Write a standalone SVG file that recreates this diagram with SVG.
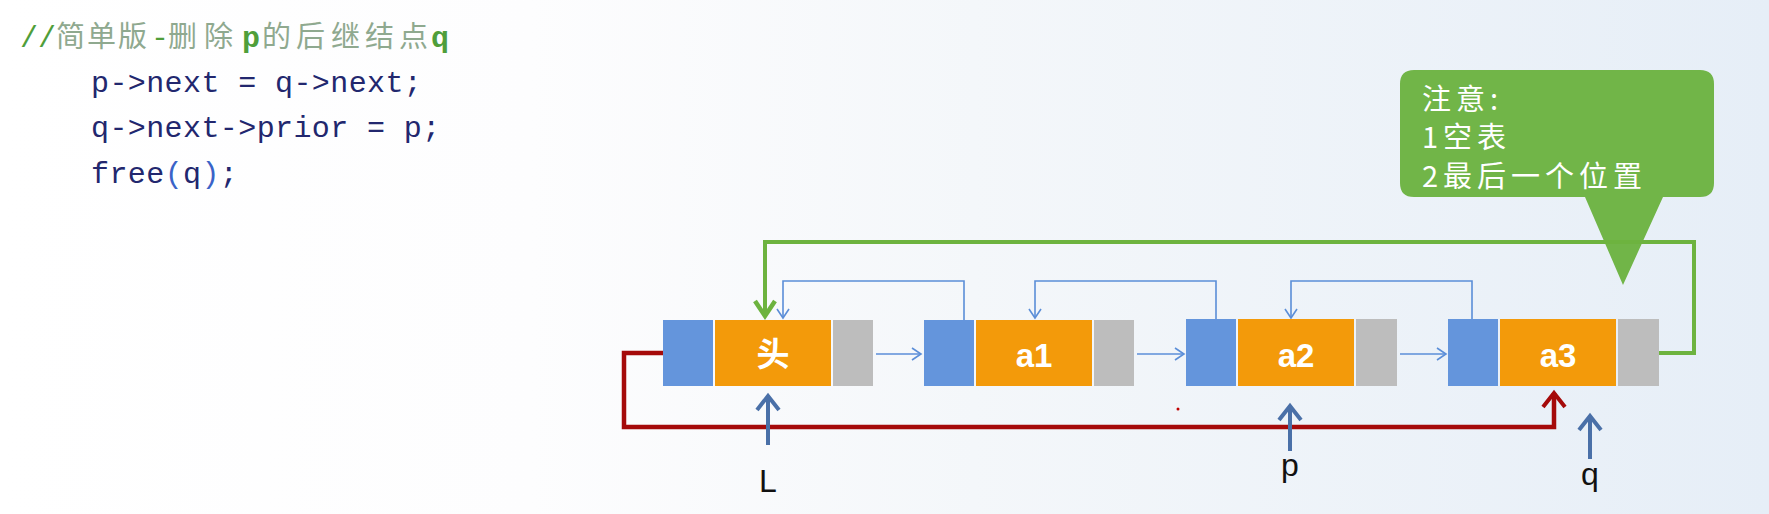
<svg xmlns="http://www.w3.org/2000/svg" width="1769" height="514" viewBox="0 0 1769 514">
  <defs>
    <linearGradient id="bg" x1="0" y1="0" x2="1769" y2="0" gradientUnits="userSpaceOnUse">
      <stop offset="0" stop-color="#ffffff"/>
      <stop offset="0.3" stop-color="#fdfdfe"/>
      <stop offset="0.55" stop-color="#f4f7fa"/>
      <stop offset="1" stop-color="#e6eef7"/>
    </linearGradient>
    <marker id="arrB" markerUnits="userSpaceOnUse" orient="auto" markerWidth="20" markerHeight="20" refX="0" refY="0" overflow="visible">
      <path d="M-9,-6 L0,0 L-9,6" fill="none" stroke="#5b8ed8" stroke-width="1.6"/>
    </marker>
    <marker id="arrG" markerUnits="userSpaceOnUse" orient="auto" markerWidth="30" markerHeight="30" refX="0" refY="0" overflow="visible">
      <path d="M-15,-10 L0,0 L-15,10" fill="none" stroke="#6db33f" stroke-width="4.5"/>
    </marker>
    <marker id="arrR" markerUnits="userSpaceOnUse" orient="auto" markerWidth="30" markerHeight="30" refX="0" refY="0" overflow="visible">
      <path d="M-14,-11 L0,0 L-14,11" fill="none" stroke="#a50a0a" stroke-width="4"/>
    </marker>
    <marker id="arrS" markerUnits="userSpaceOnUse" orient="auto" markerWidth="30" markerHeight="30" refX="0" refY="0" overflow="visible">
      <path d="M-14,-11 L0,0 L-14,11" fill="none" stroke="#4a70a8" stroke-width="4"/>
    </marker>
  </defs>
  <style>
    .code { font-family: "Liberation Mono", "DejaVu Sans Mono", monospace; font-size: 30px; fill: #22276e; letter-spacing: 0.4px; }
    .cmt { font-family: "Noto Sans CJK SC", sans-serif; font-size: 29px; fill: #8fa98f; }
    .cmtA { font-family: "Liberation Mono", monospace; font-size: 30px; fill: #4f9e3a; }
    .blue { fill: #6495dc; }
    .orange { fill: #f39a0a; }
    .gray { fill: #bdbdbd; }
    .lbl { font-family: "Liberation Sans", Arial, sans-serif; font-weight: bold; font-size: 33px; fill: #ffffff; text-anchor: middle; }
    .lblc { font-family: "Noto Sans CJK SC", sans-serif; font-weight: bold; font-size: 33px; fill: #ffffff; text-anchor: middle; }
    .ptr { font-family: "Liberation Sans", Arial, sans-serif; font-size: 32px; fill: #111111; text-anchor: middle; }
    .thin { fill: none; stroke: #5b8ed8; stroke-width: 1.6; }
    .note { font-family: "Noto Sans CJK SC", sans-serif; font-size: 29px; fill: #ffffff; letter-spacing: 5px; }
  </style>
  <rect x="0" y="0" width="1769" height="514" fill="url(#bg)"/>

  <g id="code">
    <text y="47">
      <tspan class="cmtA" x="20">//</tspan>
      <tspan class="cmt" x="56 87 118">简单版</tspan>
      <tspan class="cmtA" x="151" fill="#2f9a2f">-</tspan>
      <tspan class="cmt" x="168 204">删除</tspan>
      <tspan class="cmtA" x="242" font-weight="bold" fill="#2e9e2e">p</tspan>
      <tspan class="cmt" x="262 296 331 365 399">的后继结点</tspan>
      <tspan class="cmtA" x="431" font-weight="bold" fill="#2e9e2e">q</tspan>
    </text>
    <text class="code" x="91" y="92">p-&gt;next = q-&gt;next;</text>
    <text class="code" x="91" y="137">q-&gt;next-&gt;prior = p;</text>
    <text class="code" x="91" y="183">free<tspan fill="#3a63c8">(</tspan>q<tspan fill="#3a63c8">)</tspan>;</text>
  </g>

  <g id="callout">
    <path d="M1414,70 H1700 Q1714,70 1714,84 V183 Q1714,197 1700,197 H1663 L1623,285 L1585,197 H1414 Q1400,197 1400,183 V84 Q1400,70 1414,70 Z" fill="#71b548"/>
    <text class="note" x="1422" y="110">注意:</text>
    <text class="note" x="1422" y="148">1空表</text>
    <text class="note" x="1422" y="187">2最后一个位置</text>
  </g>

  <g id="connectors">
    <path d="M1659,353 H1694 V242 H765 V316" fill="none" stroke="#6db33f" stroke-width="4" marker-end="url(#arrG)"/>
    <path d="M663,353 H624 V427 H1554 V393" fill="none" stroke="#a50a0a" stroke-width="4.5" marker-end="url(#arrR)"/>
    <path class="thin" d="M964,320 V281 H783 V318" marker-end="url(#arrB)"/>
    <path class="thin" d="M1216,319 V281 H1035 V318" marker-end="url(#arrB)"/>
    <path class="thin" d="M1472,319 V281 H1291 V318" marker-end="url(#arrB)"/>
    <path class="thin" d="M876,354 H921" marker-end="url(#arrB)"/>
    <path class="thin" d="M1137,354 H1184" marker-end="url(#arrB)"/>
    <path class="thin" d="M1400,354 H1446" marker-end="url(#arrB)"/>
    <path d="M768,445 V396" fill="none" stroke="#4a70a8" stroke-width="4" marker-end="url(#arrS)"/>
    <path d="M1290,451 V406" fill="none" stroke="#4a70a8" stroke-width="4" marker-end="url(#arrS)"/>
    <path d="M1590,459 V416" fill="none" stroke="#4a70a8" stroke-width="4" marker-end="url(#arrS)"/>
    <circle cx="1178" cy="409" r="1.5" fill="#c00000"/>
  </g>

  <g id="node-head">
    <rect class="blue" x="663" y="320" width="50" height="66"/>
    <rect class="orange" x="715" y="320" width="116" height="66"/>
    <rect class="gray" x="833" y="320" width="40" height="66"/>
    <text class="lblc" x="773" y="366">头</text>
  </g>
  <g id="node-a1">
    <rect class="blue" x="924" y="320" width="50" height="66"/>
    <rect class="orange" x="976" y="320" width="116" height="66"/>
    <rect class="gray" x="1094" y="320" width="40" height="66"/>
    <text class="lbl" x="1034" y="367">a1</text>
  </g>
  <g id="node-a2">
    <rect class="blue" x="1186" y="319" width="50" height="67"/>
    <rect class="orange" x="1238" y="319" width="116" height="67"/>
    <rect class="gray" x="1356" y="319" width="41" height="67"/>
    <text class="lbl" x="1296" y="367">a2</text>
  </g>
  <g id="node-a3">
    <rect class="blue" x="1448" y="319" width="50" height="67"/>
    <rect class="orange" x="1500" y="319" width="116" height="67"/>
    <rect class="gray" x="1618" y="319" width="41" height="67"/>
    <text class="lbl" x="1558" y="367">a3</text>
  </g>

  <g id="labels">
    <text class="ptr" x="768" y="492">L</text>
    <text class="ptr" x="1290" y="476">p</text>
    <text class="ptr" x="1590" y="485">q</text>
  </g>
</svg>
